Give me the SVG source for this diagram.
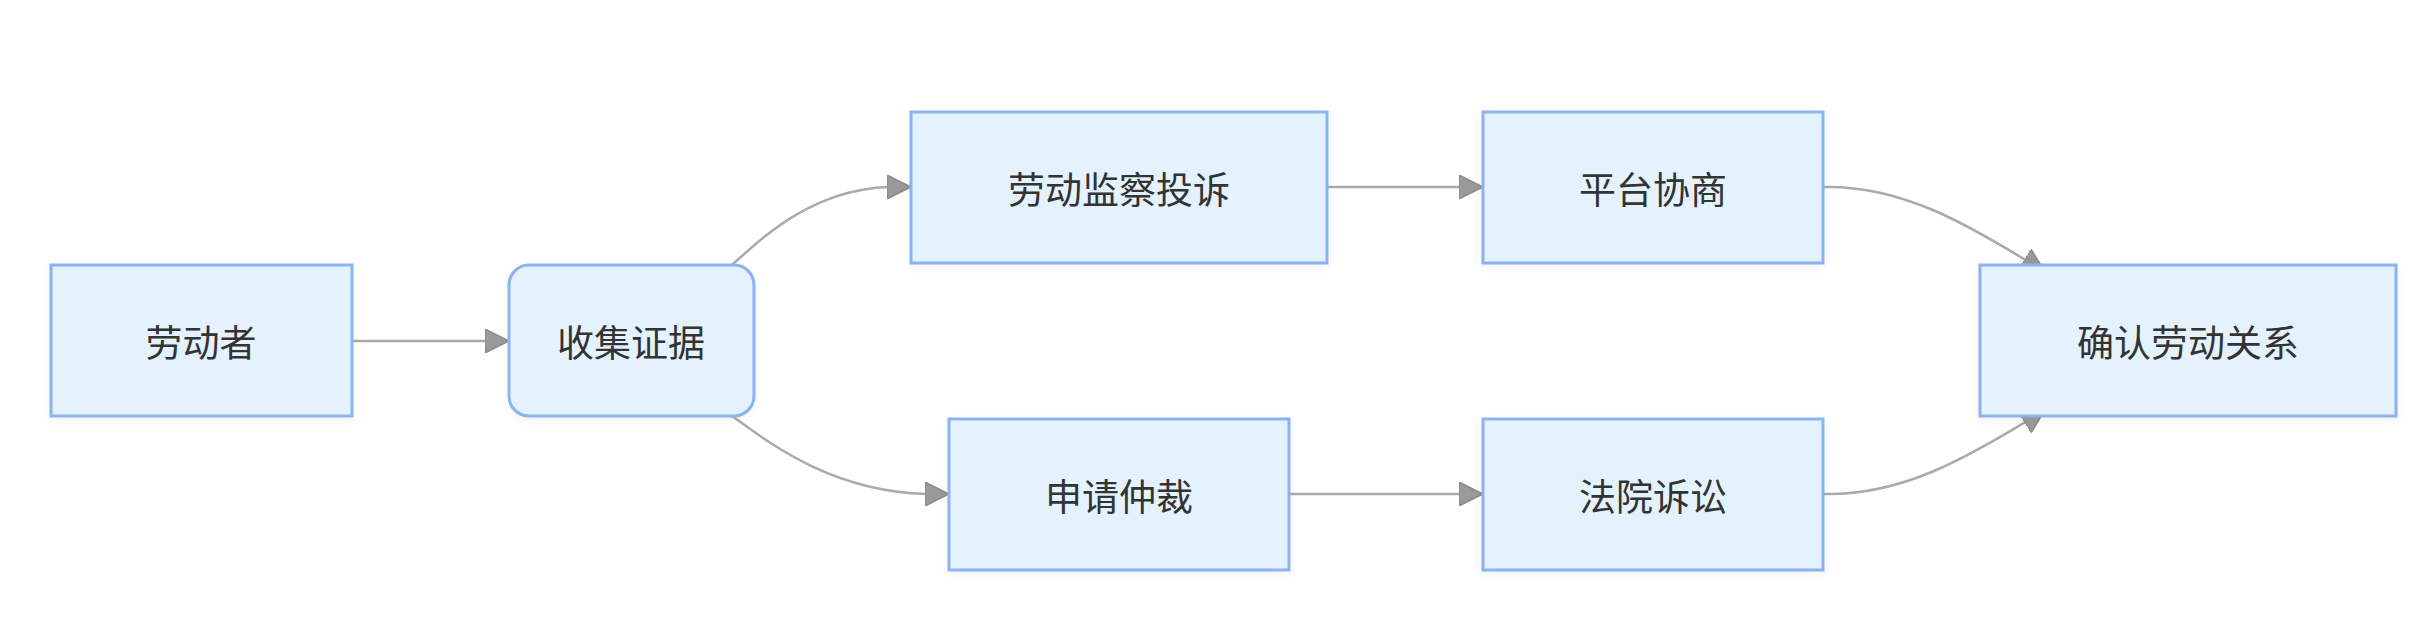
<svg xmlns="http://www.w3.org/2000/svg" width="2430" height="624" viewBox="0 0 2430 624">
<style>
.node rect{fill:#e3f2fd;stroke:#8ab3ef;stroke-width:3;filter:url(#sh)}
.node text{font-family:"Noto Sans CJK SC","Noto Sans",sans-serif;font-size:37px;fill:#333;text-anchor:middle;dominant-baseline:central}
.edge{fill:none;stroke:#aaaaaa;stroke-width:2.5;marker-end:url(#arr)}
</style>
<defs>
<marker id="arr" viewBox="0 0 10 10" refX="10" refY="5" markerUnits="userSpaceOnUse" markerWidth="24" markerHeight="24" orient="auto">
<path d="M0,0 L10,5 L0,10 z" fill="#9a9a9a" stroke="#8a8a8a" stroke-width="0.6"/>
</marker>
<filter id="sh" x="-10%" y="-10%" width="120%" height="130%">
<feDropShadow dx="0" dy="3" stdDeviation="5" flood-color="#000" flood-opacity="0.05"/>
</filter>
</defs>
<rect width="2430" height="624" fill="#fff"/>
<g id="edges">
<path class="edge" d="M352,341 L509,341"/>
<path class="edge" d="M732,265 C760,240 810,190 888,187 L911,187"/>
<path class="edge" d="M732,416 C767,441 829,491 926,494 L949,494"/>
<path class="edge" d="M1327,187 L1483,187"/>
<path class="edge" d="M1289,494 L1483,494"/>
<path class="edge" d="M1823,187 C1900,185 1965,222 2045,272"/>
<path class="edge" d="M1823,494 C1900,496 1965,460 2045,410"/>
</g>
<g id="n1" class="node"><rect x="51" y="265" width="301" height="151"/><text x="201" y="341">劳动者</text></g>
<g id="n2" class="node"><rect x="509" y="265" width="245" height="151" rx="20" ry="20"/><text x="631" y="341">收集证据</text></g>
<g id="n3" class="node"><rect x="911" y="112" width="416" height="151"/><text x="1119" y="188">劳动监察投诉</text></g>
<g id="n4" class="node"><rect x="949" y="419" width="340" height="151"/><text x="1119" y="495">申请仲裁</text></g>
<g id="n5" class="node"><rect x="1483" y="112" width="340" height="151"/><text x="1653" y="188">平台协商</text></g>
<g id="n6" class="node"><rect x="1483" y="419" width="340" height="151"/><text x="1653" y="495">法院诉讼</text></g>
<g id="n7" class="node"><rect x="1980" y="265" width="416" height="151"/><text x="2188" y="341">确认劳动关系</text></g>
</svg>
